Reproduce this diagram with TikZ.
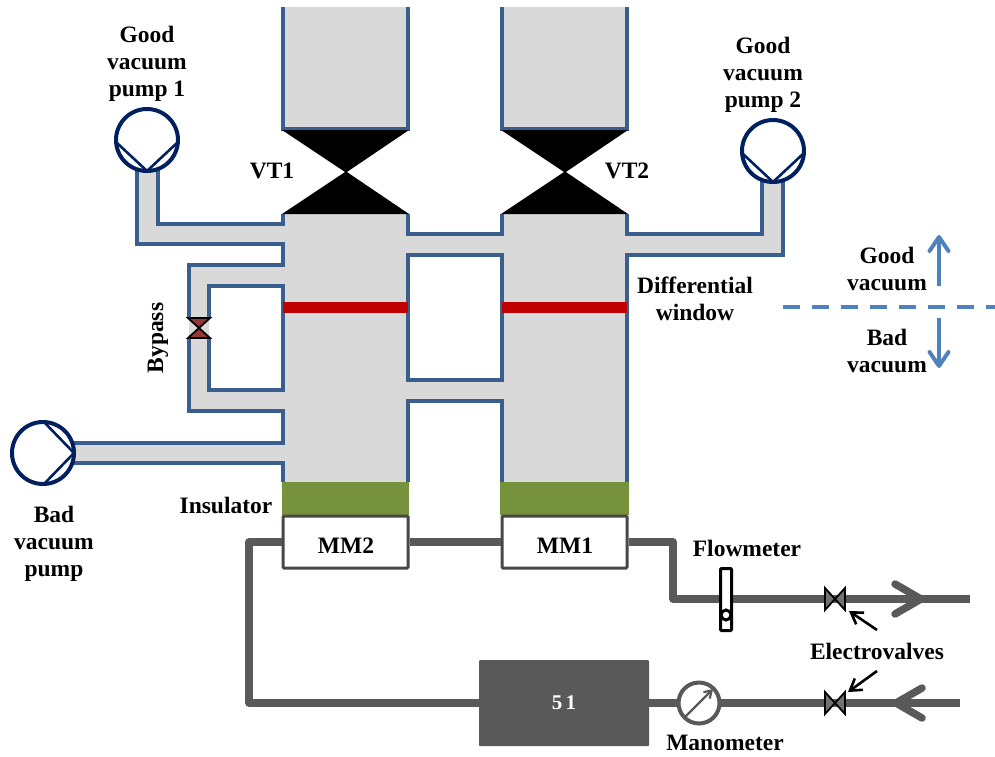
\documentclass[tikz,border=0pt]{standalone}
\usepackage{fontspec}
\setmainfont{Liberation Serif}
\usetikzlibrary{arrows.meta,calc}
\definecolor{wall}{HTML}{3A5F8F}
\definecolor{body}{HTML}{D9D9D9}
\definecolor{navy}{HTML}{002060}
\definecolor{redwin}{HTML}{C00000}
\definecolor{insul}{HTML}{76923C}
\definecolor{pipe}{HTML}{595959}
\definecolor{brick}{HTML}{953735}
\definecolor{sky}{HTML}{4F81BD}
\tikzset{
  x=1pt,y=-1pt,
  lbl/.style={font=\bfseries\fontsize{23.5}{27}\selectfont,align=center,inner sep=0pt,text=black},
  wallline/.style={draw=wall,line width=3.4pt,line join=miter,line cap=butt},
  pumpcirc/.style={circle,draw=navy,line width=4pt,fill=white,minimum size=62pt,inner sep=0pt},
  pumpvee/.style={draw=navy,line width=2.6pt,line join=miter},
  mmbox/.style={draw=pipe!80!black,line width=3pt,fill=white,rounded corners=1pt,minimum width=125pt,minimum height=52pt,inner sep=0pt},
  gaspipe/.style={draw=pipe,line width=7.5pt,line join=round,line cap=butt},
  chev/.style={draw=pipe,line width=7.5pt,line cap=round,line join=miter},
  blackvalve/.style={fill=black},
  evalve/.style={draw=black,line width=1.8pt,fill=pipe!85,line join=miter},
  callout/.style={draw=black,line width=2.6pt,-{Straight Barb[length=11pt,width=14pt,line width=2.6pt]}},
  vacarrow/.style={draw=sky,line width=4pt,-{Straight Barb[length=14pt,width=19pt,line width=4pt,round]}},
}
\begin{document}
\begin{tikzpicture}
\useasboundingbox (0,0) rectangle (995,756);
% gas volume
\fill[body] (283,7) rectangle (408,129);
\fill[body] (502,7) rectangle (627,129);
\fill[body] (283,214) rectangle (408,482);
\fill[body] (502,214) rectangle (627,482);
\fill[body] (408,234) rectangle (502,255);
\fill[body] (408,380) rectangle (502,401);
\fill[body] (137,170) -- (158,170) -- (158,224) -- (283,224) -- (283,244) -- (137,244) -- cycle;
\fill[body] (627,234) -- (762,234) -- (762,180) -- (783,180) -- (783,255) -- (627,255) -- cycle;
\fill[body] (189,265) -- (283,265) -- (283,286) -- (209,286) -- (209,390) -- (283,390) -- (283,411) -- (189,411) -- cycle;
\fill[body] (72,443) rectangle (283,463);
% walls
\draw[wallline] (283,7) -- (283,129) -- (408,129) -- (408,7);
\draw[wallline] (502,7) -- (502,129) -- (627,129) -- (627,7);
\draw[wallline] (137,170) -- (137,244) -- (283,244) -- (283,265) -- (189,265) -- (189,318);
\draw[wallline] (158,170) -- (158,224) -- (283,224) -- (283,214);
\draw[wallline] (209,318) -- (209,286) -- (283,286) -- (283,390) -- (209,390) -- (209,338);
\draw[wallline] (189,338) -- (189,411) -- (283,411) -- (283,443) -- (74,443);
\draw[wallline] (74,463) -- (283,463) -- (283,482);
\draw[wallline] (408,214) -- (408,234) -- (502,234) -- (502,214);
\draw[wallline] (408,482) -- (408,401) -- (502,401) -- (502,482);
\draw[wallline] (408,255) rectangle (502,380);
\draw[wallline] (627,214) -- (627,234) -- (762,234) -- (762,180);
\draw[wallline] (783,180) -- (783,255) -- (627,255) -- (627,482);
% differential windows
\fill[redwin] (283,302) rectangle (408,313);
\fill[redwin] (502,302) rectangle (627,313);
% gate valves
\fill[blackvalve] (282,130) -- (409,130) -- (346,172.6) -- cycle;
\fill[blackvalve] (282,214) -- (409,214) -- (346,171.4) -- cycle;
\fill[blackvalve] (501,130) -- (628,130) -- (565,172.6) -- cycle;
\fill[blackvalve] (501,214) -- (628,214) -- (565,171.4) -- cycle;
% bypass valve
\draw[draw=black,line width=1.8pt,fill=brick,line join=miter] (188,318) -- (210,318) -- (188,338) -- (210,338) -- cycle;
% pumps
\node[pumpcirc] (pumpA) at (147,140) {};
\draw[pumpvee] (117,143) -- (147,171) -- (178,142);
\node[pumpcirc] (pumpB) at (773,151) {};
\draw[pumpvee] (743,154) -- (773,182) -- (804,153);
\node[pumpcirc] (pumpC) at (43,453) {};
\draw[pumpvee] (44,422) -- (74,453) -- (44,484);
% insulators
\fill[insul] (282,482) rectangle (409,515);
\fill[insul] (500,482) rectangle (629,515);
% electrovalve and junction coordinates
\coordinate (evA) at (835,599);
\coordinate (evB) at (835,703);
\coordinate (endA) at (970,599);
\coordinate (endB) at (960,703);
% boxes
\node[mmbox] (mmtwo) at (345.5,542) {};
\node[mmbox] (mmone) at (564.5,542) {};
\node[lbl] at (346,546) {MM2};
\node[lbl] at (565,546) {MM1};
\node[draw=none,fill=pipe,rounded corners=1pt,minimum width=170pt,minimum height=86pt,inner sep=0pt,text=white,font=\bfseries\fontsize{21}{25}\selectfont] (ctrl) at (564,703) {5\,1};
\node[circle,draw=pipe,line width=4pt,fill=white,minimum size=41pt,inner sep=0pt,outer sep=0pt] (mano) at (699,703) {};
% gas circuit
\draw[gaspipe] (mmtwo.west) -- (249,542) -- (249,703) -- (ctrl.west);
\draw[gaspipe] (mmtwo.east) -- (mmone.west);
\draw[gaspipe] (mmone.east) -- (673,542) -- (673,599) -- (endA);
\draw[gaspipe] (ctrl.east) -- (mano.west);
\draw[gaspipe] (mano.east) -- (endB);
% chevrons
\draw[chev] (895,584) -- (921,599) -- (895,614);
\draw[chev] (922,688) -- (896,703) -- (922,718);
% manometer needle
\draw[draw=pipe,line width=2.2pt,-{Straight Barb[length=7pt,width=9pt,line width=2.2pt]}] (685,717) -- (713,689);
% electrovalves
\draw[evalve] ($(evA)+(-10,-11)$) -- ($(evA)+(10,11)$) -- ($(evA)+(10,-11)$) -- ($(evA)+(-10,11)$) -- cycle;
\draw[evalve] ($(evB)+(-10,-11)$) -- ($(evB)+(10,11)$) -- ($(evB)+(10,-11)$) -- ($(evB)+(-10,11)$) -- cycle;
% flowmeter
\node[draw=black,line width=3pt,fill=white,rounded corners=1pt,minimum width=11pt,minimum height=62pt,inner sep=0pt] (flow) at (726,599.5) {};
\draw[black,line width=3pt,fill=white] (726,615) circle (5);
% labels
\node[lbl] (tA) at (147,64) {Good\\vacuum\\pump 1};
\node[lbl] (tB) at (763,75) {Good\\vacuum\\pump 2};
\node[lbl] (tC) at (54,544) {Bad\\vacuum\\pump};
\node[lbl] (tVA) at (272,171) {VT1};
\node[lbl] (tVB) at (627,171) {VT2};
\node[lbl,rotate=90] (tBy) at (158,338) {Bypass};
\node[lbl] (tIn) at (226,505) {Insulator};
\node[lbl] (tDw) at (695,299) {Differential\\window};
\node[lbl] (tFl) at (747,548) {Flowmeter};
\node[lbl] (tMa) at (725,743) {Manometer};
\node[lbl] (tEv) at (877,651) {Electrovalves};
\node[lbl] (tGo) at (887,269) {Good\\vacuum};
\node[lbl] (tBa) at (887,351) {Bad\\vacuum};
% electrovalve callouts
\coordinate (cA) at (877,630);
\coordinate (cB) at (877,671);
\draw[callout] (cA) -- (849,611);
\draw[callout] (cB) -- (848,692);
% vacuum boundary
\coordinate (dashL) at (783,307);
\coordinate (dashR) at (995,307);
\draw[draw=sky,line width=4pt,dash pattern=on 17pt off 12pt] (dashL) -- (dashR);
\coordinate (uA) at (939,286);
\coordinate (uB) at (939,235);
\coordinate (dA) at (939,318);
\coordinate (dB) at (939,368);
\draw[vacarrow] (uA) -- (uB);
\draw[vacarrow] (dA) -- (dB);
\end{tikzpicture}
\end{document}
